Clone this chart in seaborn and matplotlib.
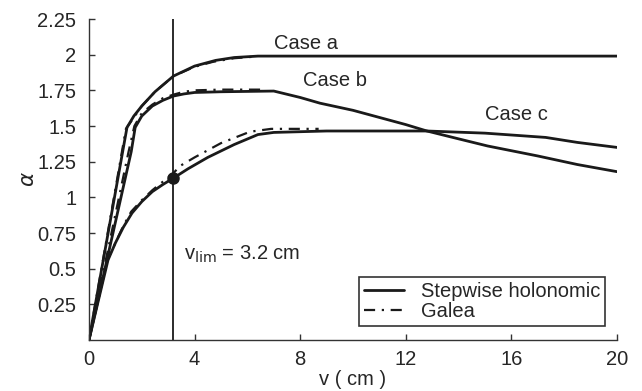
import numpy as np
import pandas as pd
import matplotlib
matplotlib.use("Agg")
import matplotlib.pyplot as plt
import seaborn as sns

# ── data ─────────────────────────────────────────────────────
x_step_a = [0, 1.44, 1.7, 2.0, 2.5, 3.2, 4.0, 4.8, 5.5, 6.4, 20]
y_step_a = [0, 1.49, 1.57, 1.64, 1.74, 1.85, 1.92, 1.96, 1.98, 1.99, 1.99]

x_step_b = [0, 1.6, 1.75, 2.0, 2.4, 2.8, 3.2, 3.6, 4.0, 5.0, 7.0,
            8.0, 8.75, 10.0, 11.0, 12.0, 12.8, 14.0, 15.1, 17.0, 18.5, 20]
y_step_b = [0, 1.32, 1.49, 1.57, 1.64, 1.68, 1.71, 1.725, 1.735, 1.74, 1.745,
            1.70, 1.66, 1.61, 1.56, 1.51, 1.465, 1.41, 1.36, 1.29, 1.23, 1.18]

x_step_c = [0, 0.72, 1.0, 1.3, 1.63, 2.0, 2.4, 2.8, 3.2, 3.75, 4.5, 5.5,
            6.4, 7.0, 9.0, 12.8, 15.0, 17.3, 18.5, 20]
y_step_c = [0, 0.56, 0.68, 0.79, 0.89, 0.97, 1.04, 1.09, 1.135, 1.2, 1.28, 1.37,
            1.44, 1.455, 1.465, 1.465, 1.45, 1.42, 1.385, 1.35]

x_gal_a = [0, 1.4, 1.7, 2.0, 2.5, 3.2, 4.0, 4.7, 5.5, 6.2]
y_gal_a = [0, 1.48, 1.56, 1.64, 1.74, 1.85, 1.915, 1.95, 1.975, 1.985]

x_gal_b = [0, 1.5, 1.72, 2.0, 2.4, 2.8, 3.2, 3.6, 4.0, 5.0, 6.7]
y_gal_b = [0, 1.32, 1.5, 1.59, 1.65, 1.695, 1.72, 1.74, 1.75, 1.755, 1.755]

x_gal_c = [0, 0.7, 1.0, 1.3, 1.6, 2.0, 2.4, 2.8, 3.2, 3.45, 4.0, 5.0, 6.1, 6.9, 8.7]
y_gal_c = [0, 0.56, 0.68, 0.8, 0.9, 0.98, 1.05, 1.11, 1.17, 1.22, 1.28, 1.38,
           1.46, 1.48, 1.48]

v_lim = 3.2
alpha_lim = 1.135

case_labels = ["Case a", "Case b", "Case c"]
case_label_pos = [(7.0, 2.08), (8.1, 1.82), (15.0, 1.58)]

# ── figure ───────────────────────────────────────────────────
sns.set_style("ticks")
plt.rcParams["font.family"] = ["Liberation Sans", "DejaVu Sans"]
fs = 14.5

fig = plt.figure(figsize=(6.42, 3.91), dpi=100)
ax = fig.add_axes([0.1386, 0.1304, 0.8224, 0.8210])

step_kw = dict(color="#1a1a1a", linewidth=2.0, sort=False, ax=ax)
gal_kw = dict(color="#1a1a1a", linewidth=1.6, sort=False, ax=ax)

sns.lineplot(x=x_step_a, y=y_step_a, label="Stepwise holonomic", **step_kw)
sns.lineplot(x=x_step_b, y=y_step_b, **step_kw)
sns.lineplot(x=x_step_c, y=y_step_c, **step_kw)

dash = (0, (5, 3, 1, 3))
for xs, ys, lab in [(x_gal_a, y_gal_a, "Galea"), (x_gal_b, y_gal_b, None),
                    (x_gal_c, y_gal_c, None)]:
    line = sns.lineplot(x=xs, y=ys, label=lab, **gal_kw).lines[-1]
    line.set_linestyle(dash)

ax.axvline(v_lim, color="#1a1a1a", linewidth=1.3)
ax.plot([v_lim], [alpha_lim], "o", color="#1a1a1a", markersize=8)

for lab, (tx, ty) in zip(case_labels, case_label_pos):
    ax.text(tx, ty, lab, fontsize=fs, ha="left", va="center")
ax.text(3.6, 0.6, r"v$_{\rm lim}$ = 3.2 cm", fontsize=fs, ha="left", va="center")

ax.set_xlim(0, 20)
ax.set_ylim(0, 2.25)
ax.set_xticks([0, 4, 8, 12, 16, 20])
ax.set_yticks([0.25, 0.5, 0.75, 1, 1.25, 1.5, 1.75, 2, 2.25])
ax.set_yticklabels(["0.25", "0.5", "0.75", "1", "1.25", "1.5", "1.75", "2", "2.25"])
ax.tick_params(direction="in", length=4, width=1, labelsize=fs, color="#333333")
ax.tick_params(axis="x", pad=7)
ax.tick_params(axis="y", pad=9)
ax.set_xlabel("v ( cm )", fontsize=fs, labelpad=1)
ax.set_ylabel(r"$\alpha$", fontsize=fs + 1)
ax.yaxis.set_label_coords(-0.095, 0.5)
sns.despine(ax=ax)
for s in ["left", "bottom"]:
    ax.spines[s].set_linewidth(1.0)
    ax.spines[s].set_color("#333333")

leg = ax.legend(loc="lower right", bbox_to_anchor=(0.985, 0.03), fontsize=fs,
                frameon=True, fancybox=False, handlelength=2.0,
                borderpad=0.25, labelspacing=0.05, handletextpad=0.8,
                borderaxespad=0.2)
leg.get_frame().set_edgecolor("black")
leg.get_frame().set_linewidth(1.2)

fig.savefig("out.png", dpi=100)
